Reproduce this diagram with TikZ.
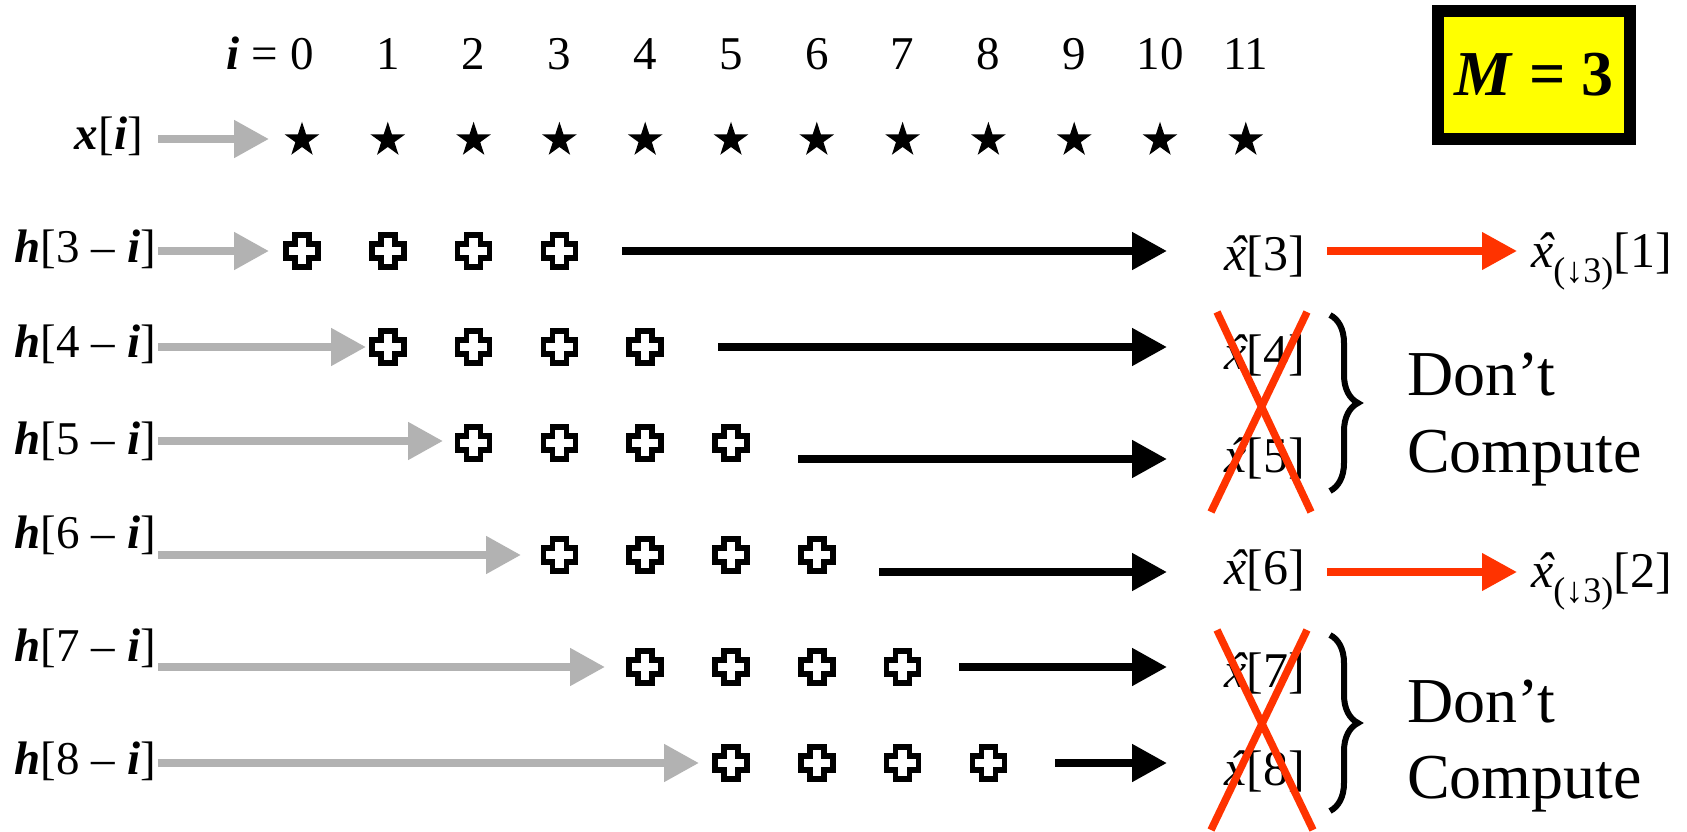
\documentclass[tikz,border=0pt]{standalone}
\usepackage{fontspec}
\setmainfont{Liberation Serif}
\usetikzlibrary{arrows.meta,shapes.geometric,decorations.pathreplacing}
\definecolor{arrowgray}{RGB}{178,178,178}
\definecolor{crossred}{RGB}{255,51,0}
\definecolor{boxyellow}{RGB}{255,255,0}
\newcommand{\bi}[1]{\textbf{\textit{#1}}}
\newcommand{\xhat}{\textit{\rlap{\hspace{0.1em}ˆ}x}}

\begin{document}
\begin{tikzpicture}[x=1pt,y=-1pt,
    txt/.style={inner sep=0pt,font=\fontsize{47}{56}\selectfont},
    est/.style={inner sep=0pt,anchor=base west,font=\fontsize{50}{60}\selectfont},
    big/.style={inner sep=0pt,anchor=base west,font=\fontsize{64}{77}\selectfont},
    star node/.style={star,star points=5,star point ratio=2.618,fill=black,
                      minimum size=36.5pt,inner sep=0pt},
    gray arrow/.style={draw=arrowgray,line width=8pt,
                       -{Triangle[length=35pt,width=36pt]},shorten <=2pt},
    black arrow/.style={line width=8pt,-{Triangle[length=35pt,width=36pt]}},
    red arrow/.style={draw=crossred,line width=7.5pt,
                      -{Triangle[length=35pt,width=36pt]}},
    red cross/.style={draw=crossred,line width=7.5pt},
    curly/.style={line width=6pt,decorate,decoration={brace,amplitude=28pt}},
    plus mark/.pic={\draw[line width=5.5pt,fill=white]
        (-7,-16) -- (7,-16) -- (7,-7) -- (16,-7) -- (16,7) -- (7,7) -- (7,16)
        -- (-7,16) -- (-7,7) -- (-16,7) -- (-16,-7) -- (-7,-7) -- cycle;}]
\useasboundingbox (0,0) rectangle (1687,832);

\foreach \k in {0,...,11} {
  \node[txt,anchor=base] (n\k) at ({302+85.8*\k},70) {\k};
  \node[star node] (s\k) at ({302+85.8*\k},140) {};
}
\node[txt,anchor=base east] (ieq) at (n0.base west) {\bi{i} =\kern0.25em};

\node[txt,anchor=base east] (xi) at (143,149.5) {\bi{x}[\bi{i}]};
\coordinate (gx) at (269,139);
\draw[gray arrow,shorten <=15pt] (xi.east |- gx) -- (gx);

\foreach \r/\hy/\gy/\gt/\cy/\by/\bs/\ey in
  {3/262.5/251/269/251/251/622/270, 4/357.5/347/366/347/347/718/369,
   5/454.5/441/443/443/459/798/472, 6/548.5/555/521/555/572/879/584,
   7/661.5/667/605/667/667/959/687, 8/774.5/763/699/763/763/1055/785} {
  \node[txt,anchor=base east] (h\r) at (156,\hy) {\bi{h}[\r{} – \bi{i}]};
  \coordinate (g\r) at (\gt,\gy);
  \draw[gray arrow] (h\r.east |- g\r) -- (g\r);
  \foreach \k in {0,...,3}
    \pic at ({302+85.8*(\r-3+\k)},\cy) {plus mark};
  \node[est] (xh\r) at (1224,\ey) {\xhat[\r]};
  \coordinate (b\r) at (\bs,\by);
  \draw[black arrow,shorten >=57pt] (b\r) -- (b\r -| xh\r.west);
}

\node[est] (xd1) at (1531,267)
  {\xhat\raisebox{-15pt}{\fontsize{36}{36}\selectfont(↓3)}[1]};
\node[est] (xd2) at (1531,587)
  {\xhat\raisebox{-15pt}{\fontsize{36}{36}\selectfont(↓3)}[2]};
\draw[red arrow,shorten <=22pt,shorten >=14pt] (xh3.east |- b3) -- (xd1.west |- b3);
\draw[red arrow,shorten <=22pt,shorten >=14pt] (xh6.east |- b6) -- (xd2.west |- b6);

\draw[red cross] (1217,312) -- (1311,512);
\draw[red cross] (1307,312) -- (1211,512);
\draw[red cross] (1217,630) -- (1313,830);
\draw[red cross] (1307,630) -- (1211,830);

\draw[curly] (1330,315) -- (1330,491);
\draw[curly] (1330,635) -- (1330,811);
\node[big] (dc1) at (1407,395) {Don’t};
\node[big] (cp1) at (1407,472) {Compute};
\node[big] (dc2) at (1407,722) {Don’t};
\node[big] (cp2) at (1407,798) {Compute};

\node[draw,line width=12pt,fill=boxyellow,minimum width=192pt,minimum height=128pt,
      inner sep=0pt,font=\fontsize{64}{77}\selectfont\bfseries] (mbox) at (1534,75)
  {\textit{M} = 3};
\end{tikzpicture}
\end{document}
